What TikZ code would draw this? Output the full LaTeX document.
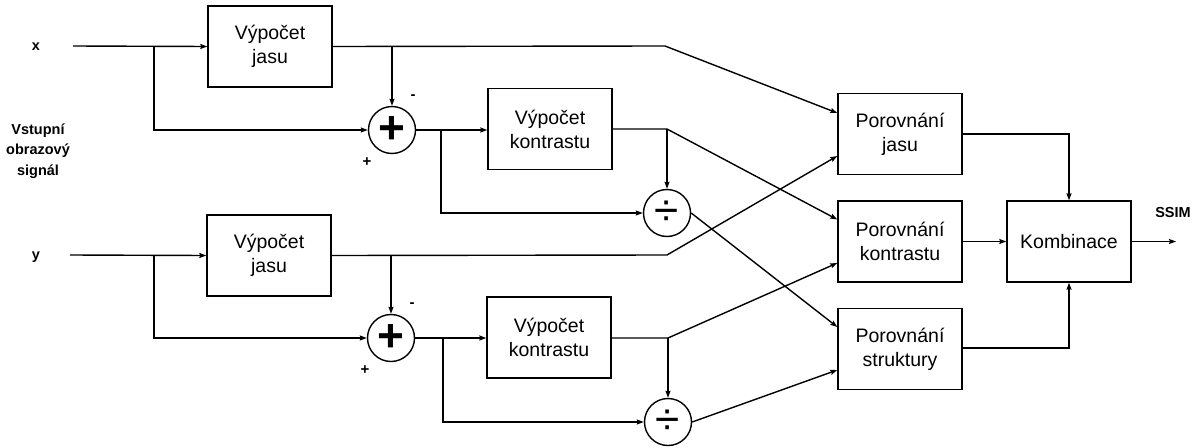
\documentclass[tikz,border=0pt]{standalone}
\usepackage{fontspec}
\setmainfont{Liberation Sans}
\usetikzlibrary{arrows.meta,calc}
\begin{document}
\begin{tikzpicture}[x=1pt,y=-1pt,
  line width=1.4pt,
  arr/.style={-{Stealth[length=7pt,width=5pt,inset=1pt]}},
  block/.style={draw,minimum width=124pt,minimum height=81pt,inner sep=0pt,
    align=center,font=\fontsize{19.5}{24}\selectfont},
  op/.style={draw,circle,minimum size=47pt,inner sep=0pt,
    font=\fontsize{44}{44}\selectfont},
  addop/.style={op,font=\bfseries\fontsize{46}{46}\selectfont},
  lbl/.style={font=\bfseries\fontsize{14.5}{20.5}\selectfont,align=center},
  sign/.style={font=\bfseries\fontsize{15}{15}\selectfont}]
\useasboundingbox (0,0) rectangle (1204,447);

% input labels
\node[lbl] (xin) at (36,47) {x};
\node[lbl] (yin) at (36,257) {y};
\node[lbl] (sig) at (38,151) {Vstupní\\obrazový\\signál};
\node[lbl] (ssim) at (1173,213) {SSIM};

% processing blocks
\node[block] (jx) at (270,46.5) {Výpočet\\jasu};
\node[block] (jy) at (269,255.5) {Výpočet\\jasu};
\node[addop] (sx) at (392,130) {+};
\node[addop] (sy) at (391,338) {+};
\node[block] (kx) at (550,129) {Výpočet\\kontrastu};
\node[block] (ky) at (549,337.5) {Výpočet\\kontrastu};
\node[op] (dx) at (667,213) {÷};
\node[op] (dy) at (668,422) {÷};
\node[block] (pj) at (900,134) {Porovnání\\jasu};
\node[block] (pk) at (900,241.5) {Porovnání\\kontrastu};
\node[block] (ps) at (900,349) {Porovnání\\struktury};
\node[block] (kb) at (1069,241.5) {Kombinace};

% signs at the summing points
\node[sign] (mx) at (413,97) {-};
\node[sign] (px) at (367,162) {+};
\node[sign] (my) at (412,305) {-};
\node[sign] (py) at (365,370) {+};

% branch and bend points
\coordinate (xa) at (154,46);
\coordinate (ya) at (154,255);
\coordinate (xs) at (73,46);
\coordinate (ys) at (70,255);
\coordinate (jxb) at (392,46);
\coordinate (jxe) at (665,46);
\coordinate (jyb) at (391,255);
\coordinate (jye) at (667,255);
\coordinate (sxb) at (441,130);
\coordinate (syb) at (443,338);
\coordinate (kxb) at (667,129);
\coordinate (kyb) at (668,338);
\coordinate (pjb) at (1069,134);
\coordinate (psb) at (1069,348);
\coordinate (out) at (1176,241.5);

% x channel
\draw[arr] (xs) -- (jx.west);
\draw[arr] (xa) |- (sx.west);
\draw[arr] (jx.east) -- (jxe) -- ([yshift=21pt]pj.west);
\draw[arr] (jxb) -- (sx.north);
\draw[arr] (sx.east) -- (kx.west |- sx.east);
\draw[arr] (sxb) |- (dx.west);
\draw[arr] (kx.east |- kxb) -- (kxb) -- ([yshift=22pt]pk.west);
\draw[arr] (kxb) -- (dx.north);
\draw[arr] (dx.east) -- ([yshift=22pt]ps.west);

% y channel
\draw[arr] (ys) -- (jy.west);
\draw[arr] (ya) |- (sy.west);
\draw[arr] (jy.east) -- (jye) -- ([yshift=-22pt]pj.west);
\draw[arr] (jyb) -- (sy.north);
\draw[arr] (sy.east) -- (ky.west |- sy.east);
\draw[arr] (syb) |- (dy.west);
\draw[arr] (ky.east |- kyb) -- (kyb) -- ([yshift=-21.5pt]pk.west);
\draw[arr] (kyb) -- (dy.north);
\draw[arr] (dy.east) -- ([yshift=-21pt]ps.west);

% combination
\draw[arr] (pj.east |- pjb) -- (pjb) -- (kb.north);
\draw[arr] (pk.east) -- (kb.west);
\draw[arr] (ps.east |- psb) -- (psb) -- (kb.south);
\draw[arr] (kb.east) -- (out);
\end{tikzpicture}
\end{document}
